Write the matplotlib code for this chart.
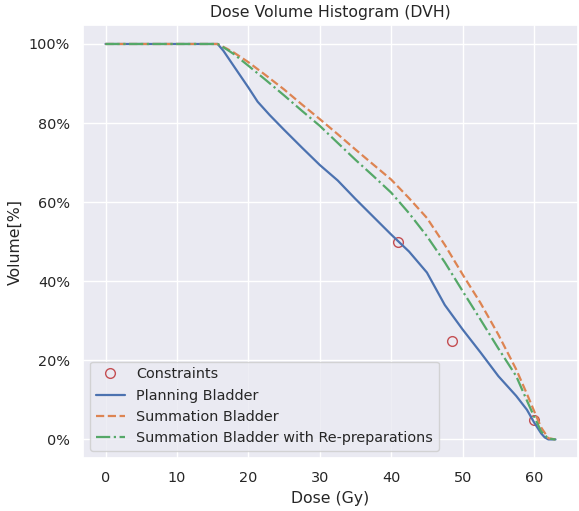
import matplotlib
matplotlib.use("Agg")
import matplotlib.pyplot as plt
import seaborn as sns
from matplotlib.ticker import PercentFormatter

sns.set_theme(style="darkgrid")

title = "Dose Volume Histogram (DVH)"
xlabel = "Dose (Gy)"
ylabel = "Volume[%]"

plan_dose = [0, 15.7, 16.5, 18, 20, 21.3, 23, 25, 27.5, 30, 32.5, 35, 37.5, 40, 42.5, 45,
             47.5, 50, 52.5, 55, 57.5, 59, 60, 61, 61.5, 62, 63]
plan_vol = [100, 100, 98.3, 94.3, 89.0, 85.4, 82.0, 78.3, 73.8, 69.4, 65.5, 60.8, 56.3, 51.8,
            47.5, 42.2, 34.0, 27.8, 22.0, 16.0, 11.0, 7.5, 4.3, 1.5, 0.5, 0, 0]

sum_dose = [0, 15.7, 17, 18, 20, 22.5, 25, 27.5, 30, 32.5, 35, 37.5, 40, 42.5, 45, 47.5,
            50, 52.5, 55, 57.5, 59, 60, 61, 62, 63]
sum_vol = [100, 100, 98.8, 97.8, 95.4, 92.0, 88.5, 84.7, 81.0, 77.2, 73.3, 69.5, 65.7, 61.0,
           56.0, 49.2, 41.7, 34.5, 26.5, 17.7, 11.5, 7.2, 3.0, 0.3, 0]

rep_dose = [0, 15.7, 17, 18, 20, 22.5, 25, 27.5, 30, 32.5, 35, 37.5, 40, 42.5, 45, 47.5,
            50, 52.5, 55, 57.5, 59, 60, 61, 62, 63]
rep_vol = [100, 100, 98.6, 97.4, 94.5, 90.8, 87.0, 83.1, 79.3, 75.0, 70.7, 66.6, 62.4, 57.2,
           51.4, 44.8, 37.5, 30.3, 23.0, 16.0, 9.8, 5.8, 2.0, 0.2, 0]

con_dose = [41, 48.5, 60]
con_vol = [50, 25, 5]

labels = ["Constraints", "Planning Bladder", "Summation Bladder",
          "Summation Bladder with Re-preparations"]

fig = plt.figure(figsize=(5.79, 5.11), dpi=100)
ax = fig.add_axes([83/579, 1 - 458/511, (578 - 83)/579, (458 - 25)/511])

pal = sns.color_palette()
ax.plot(con_dose, con_vol, 'o', mfc='none', mec=pal[3], ms=7, label=labels[0])
ax.plot(plan_dose, plan_vol, '-', color=pal[0], lw=1.6, label=labels[1])
ax.plot(sum_dose, sum_vol, '--', color=pal[1], lw=1.6, label=labels[2])
ax.plot(rep_dose, rep_vol, '-.', color=pal[2], lw=1.6, label=labels[3])

ax.set_xlim(-3.15, 66.15)
ax.set_ylim(-4.7, 104.8)
ax.set_xticks([0, 10, 20, 30, 40, 50, 60])
ax.set_yticks([0, 20, 40, 60, 80, 100])
ax.yaxis.set_major_formatter(PercentFormatter(decimals=0))
ax.set_title(title, fontsize=11.3)
ax.set_xlabel(xlabel, fontsize=11.3)
ax.set_ylabel(ylabel, fontsize=11.3)
ax.tick_params(labelsize=10.4)
ax.legend(loc='lower left', fontsize=10.4)

fig.savefig("out.png", dpi=100)
